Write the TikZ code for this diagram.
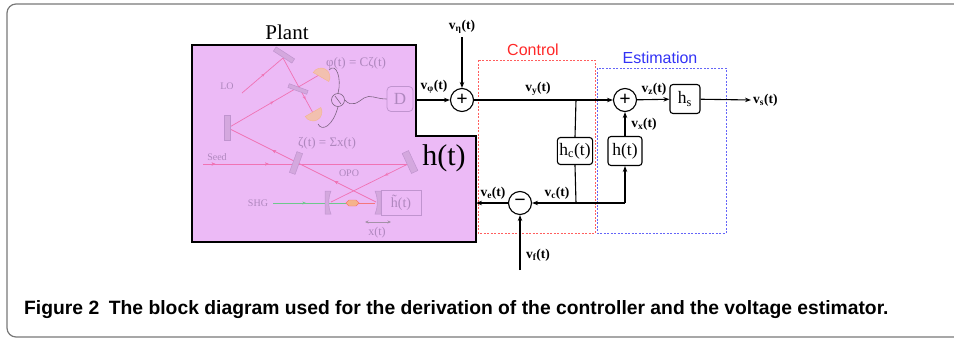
\documentclass[tikz,border=0pt]{standalone}
\usepackage{fontspec}
\setmainfont{Liberation Serif}
\setsansfont{Liberation Sans}
\newfontfamily\capfont{Liberation Sans}
\usetikzlibrary{arrows.meta,decorations.markings}
\definecolor{plantc}{RGB}{236,186,246}
\definecolor{beamc}{RGB}{240,115,180}
\definecolor{optc}{RGB}{212,168,222}
\definecolor{optd}{RGB}{192,148,207}
\definecolor{fadet}{RGB}{175,135,190}
\definecolor{detc}{RGB}{242,192,175}
\definecolor{shgc}{RGB}{110,200,140}
\definecolor{wirec}{RGB}{125,100,130}
\definecolor{ctrlc}{RGB}{255,40,40}
\definecolor{estc}{RGB}{50,50,245}
\definecolor{framec}{RGB}{120,120,120}
\begin{document}
\begin{tikzpicture}[x=1pt,y=-1pt,
  ln/.style={line width=1.1pt},
  sig/.style={line width=1.1pt,-{Stealth[length=6pt,width=4.5pt]}},
  sumc/.style={circle,draw,line width=1.1pt,minimum size=23pt,inner sep=0pt,font=\bfseries\fontsize{20}{20}\selectfont},
  blk/.style={draw,rounded corners=3pt,line width=1.1pt,inner sep=2pt,minimum height=27pt,font=\fontsize{17.5}{17.5}\selectfont},
  lbl/.style={inner sep=0pt,font=\bfseries\fontsize{13.5}{13.5}\selectfont},
  beam/.style={draw=beamc,line width=0.7pt},
  midarr/.style={postaction={decorate},decoration={markings,mark=at position #1 with {\arrow{Stealth[length=3.5pt,width=3pt]}}}},
  fade/.style={text=fadet,inner sep=0pt},
  mirror/.style={draw=optd,fill=optc,line width=0.5pt,inner sep=0pt},
  ctrlbox/.style={draw=ctrlc!75,line width=0.8pt,dash pattern=on 2pt off 1.5pt},
  estbox/.style={draw=estc!75,line width=0.8pt,dash pattern=on 2pt off 1.5pt}
]
\useasboundingbox (0,0) rectangle (954,338);
% figure frame
\draw[framec,line width=1.2pt,rounded corners=9pt] (954,4) -- (7,4) -- (7,337) -- (954,337);

% plant
\draw[fill=plantc,line width=2pt] (192,45) -- (416,45) -- (416,136) -- (476,136) -- (476,242) -- (192,242) -- cycle;
\node[font=\fontsize{21}{21}\selectfont,inner sep=0pt] (plant) at (287,32) {Plant};
\node[font=\fontsize{30}{30}\selectfont,inner sep=0pt] (ht) at (444,158) {h(t)};

% faded optical setup
\draw[beam,midarr=0.55] (242,93) -- (283,58);
\draw[beam,midarr=0.75] (283,58) -- (313,113);
\draw[beam,midarr=0.5] (228,128) -- (319,75);
\draw[beam,midarr=0.28,midarr=0.7] (376,202) -- (228,128);
\draw[beam,midarr=0.06,midarr=0.32] (203,164) -- (408,164);
\draw[beam,midarr=0.3] (408,164) -- (331,202);
\draw[draw=shgc,line width=0.7pt,midarr=0.45] (273,203) -- (346,203);
\draw[draw=beamc!70!orange,line width=0.7pt] (346,203) -- (375,203);
\node[mirror,minimum width=22pt,minimum height=5pt,rotate=-33] (m0) at (284,55) {};
\node[mirror,minimum width=20pt,minimum height=4pt,rotate=-20] (bs0) at (298,89) {};
\node[mirror,minimum width=6pt,minimum height=25pt] (m1l) at (227,128) {};
\node[mirror,minimum width=7pt,minimum height=22pt,rotate=25] (m2r) at (410,162) {};
\node[mirror,minimum width=6pt,minimum height=22pt,rotate=-20] (bs1) at (296,163) {};
\fill[optc,draw=optd,line width=0.5pt] (325,191) -- (331,191) .. controls (328,198) and (328,207) .. (331,214) -- (325,214) -- cycle;
\fill[optc,draw=optd,line width=0.5pt] (381,191) -- (375,191) .. controls (378,198) and (378,207) .. (375,214) -- (381,214) -- cycle;
\fill[detc!80!orange,draw=beamc!60!orange,line width=0.4pt] (346,203) -- (349,200) -- (356,200) -- (359,203) -- (356,206) -- (349,206) -- cycle;
\fill[detc,draw=detc!80!orange,line width=0.4pt,rotate around={-30:(321,77)}] (312,77) arc[start angle=180,end angle=360,radius=9] -- cycle;
\fill[detc,draw=detc!80!orange,line width=0.4pt,rotate around={210:(313,112)}] (304,112) arc[start angle=180,end angle=360,radius=9] -- cycle;
\node[circle,draw=wirec,line width=0.6pt,minimum size=13pt,inner sep=0pt] (sub0) at (338,100) {};
\draw[wirec,line width=0.6pt] (335,96) -- (341,104);
\draw[wirec,line width=0.6pt] (329,70) .. controls (336,62) and (342,78) .. (sub0.north);
\draw[wirec,line width=0.6pt] (318,124) .. controls (322,132) and (333,126) .. (sub0.south);
\node[draw=optd,rounded corners=4pt,line width=0.8pt,minimum width=26pt,minimum height=25pt,fade,font=\fontsize{17}{17}\selectfont] (D) at (400,99) {D};
\draw[wirec,line width=0.6pt] (sub0.east) .. controls (352,108) and (358,102) .. (364,98) .. controls (370,94) and (376,99) .. (D.west);
\node[draw=optd,line width=0.8pt,minimum width=40pt,minimum height=25pt,fade,font=\fontsize{14}{14}\selectfont] (htil) at (401,203) {\~{h}(t)};
\node[fade,font=\fontsize{10}{10}\selectfont] (lo) at (227,86) {LO};
\node[fade,font=\fontsize{10}{10}\selectfont] (seed) at (217,157) {Seed};
\node[fade,font=\fontsize{10}{10}\selectfont] (shg) at (258,203) {SHG};
\node[fade,font=\fontsize{10}{10}\selectfont] (opo) at (349,173) {OPO};
\node[fade,font=\fontsize{13}{13}\selectfont] (phi) at (356,63) {φ(t) = Cζ(t)};
\node[fade,font=\fontsize{13}{13}\selectfont] (zeta) at (327,143) {ζ(t) = Σx(t)};
\coordinate (xa) at (365,222);
\coordinate (xb) at (391,222);
\draw[draw=wirec!70,line width=0.6pt,{Stealth[length=3.5pt,width=3pt]}-{Stealth[length=3.5pt,width=3pt]}] (xa) -- (xb);
\node[fade,font=\fontsize{12}{12}\selectfont] (xt) at (377,233) {x(t)};

% block diagram
\draw[ctrlbox] (478,60) rectangle (595,233);
\draw[estbox] (597,68) rectangle (726,233);
\node[text=ctrlc,font=\sffamily\fontsize{16}{16}\selectfont,inner sep=0pt] (ctl) at (533,50) {Control};
\node[text=estc,font=\sffamily\fontsize{16}{16}\selectfont,inner sep=0pt] (est) at (660,58) {Estimation};

\node[sumc] (s1) at (462,100) {+};
\node[sumc] (s2) at (625,100) {+};
\node[sumc] (m1) at (520,203) {−};
\node[blk,minimum width=34pt] (hc) at (575,151) {h\textsubscript{c}(t)};
\node[blk,minimum width=34pt,minimum height=29pt] (hh) at (625,151) {h(t)};
\node[blk,minimum width=30pt,minimum height=29pt] (hs) at (685,99) {h\textsubscript{s}};

\coordinate (pout) at (416,100);
\coordinate (pin) at (476,203);
\coordinate (eta) at (462,37);
\coordinate (fin) at (520,270);
\coordinate (br) at (576,100);
\coordinate (bc) at (576,203);
\coordinate (ec) at (625,203);
\coordinate (sout) at (751,100);

\draw[sig] (eta) -- (s1);
\draw[sig] (pout) -- (s1);
\draw[sig] (s1) -- (s2);
\draw[ln] (br) -- (hc.north);
\draw[ln] (hc.south) -- (bc);
\draw[sig] (ec) -- (m1);
\draw[sig] (ec) -- (hh);
\draw[sig] (hh) -- (s2);
\draw[sig] (s2) -- (hs);
\draw[sig] (hs) -- (sout);
\draw[sig] (m1) -- (pin);
\draw[sig] (fin) -- (m1);

\node[lbl] (leta) at (462,27) {v\textsubscript{η}(t)};
\node[lbl] (lphi) at (434,87) {v\textsubscript{φ}(t)};
\node[lbl] (ly) at (538,89) {v\textsubscript{y}(t)};
\node[lbl] (lc) at (557,193) {v\textsubscript{c}(t)};
\node[lbl] (le) at (493,193) {v\textsubscript{e}(t)};
\node[lbl] (lf) at (538,255) {v\textsubscript{f}(t)};
\node[lbl] (lz) at (654,89) {v\textsubscript{z}(t)};
\node[lbl] (lx) at (644,124) {v\textsubscript{x}(t)};
\node[lbl,anchor=west] (ls) at (753,100) {v\textsubscript{s}(t)};

% caption
\node[anchor=west,inner sep=0pt,font=\capfont\bfseries\fontsize{19.3}{19.3}\selectfont] (cap) at (24,310) {Figure 2\hspace{0.5em}The block diagram used for the derivation of the controller and the voltage estimator.};
\end{tikzpicture}
\end{document}
